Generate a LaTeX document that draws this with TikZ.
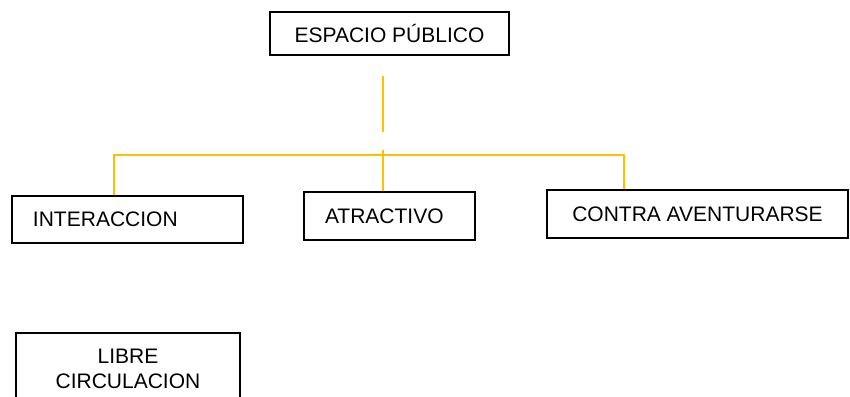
\documentclass[tikz,border=0pt]{standalone}
\usepackage{fontspec}
\setmainfont{Liberation Sans}
\definecolor{linkgold}{HTML}{FFC000}
\begin{document}
\begin{tikzpicture}[x=1bp, y=-1bp,
        box/.style={draw, line width=2bp, inner sep=0pt, align=center, font=\fontsize{21bp}{25bp}\selectfont},
        link/.style={linkgold, line width=2.2bp}]
    \useasboundingbox (0,0) rectangle (850,396);
    \node [box, minimum width=239bp, minimum height=43bp] (espacio) at (389.5,33.5) {ESPACIO PÚBLICO};
    \node [box, align=left, text width=189bp, inner xsep=21bp, minimum height=47bp] (interaccion) at (127.5,219.5) {INTERACCION};
    \node [box, align=left, text width=129bp, inner xsep=21bp, minimum height=48bp] (atractivo) at (389.5,216) {ATRACTIVO};
    \node [box, minimum width=301bp, minimum height=48bp] (contra) at (697.5,214) {CONTRA AVENTURARSE};
    \node [box, minimum width=224bp, minimum height=71bp] (libre) at (128,368.5) {LIBRE\\CIRCULACION};
    \coordinate (stemtop) at (383,76);
    \coordinate (stembot) at (383,132);
    \coordinate (midtop) at (383,150);
    \coordinate (barL) at (114,155);
    \coordinate (barR) at (624,155);
    \draw [link] (stemtop) -- (stembot);
    \draw [link] (midtop) -- (midtop |- atractivo.north);
    \draw [link] (interaccion.north -| barL) -- (barL) -- (barR) -- (contra.north -| barR);
\end{tikzpicture}
\end{document}
